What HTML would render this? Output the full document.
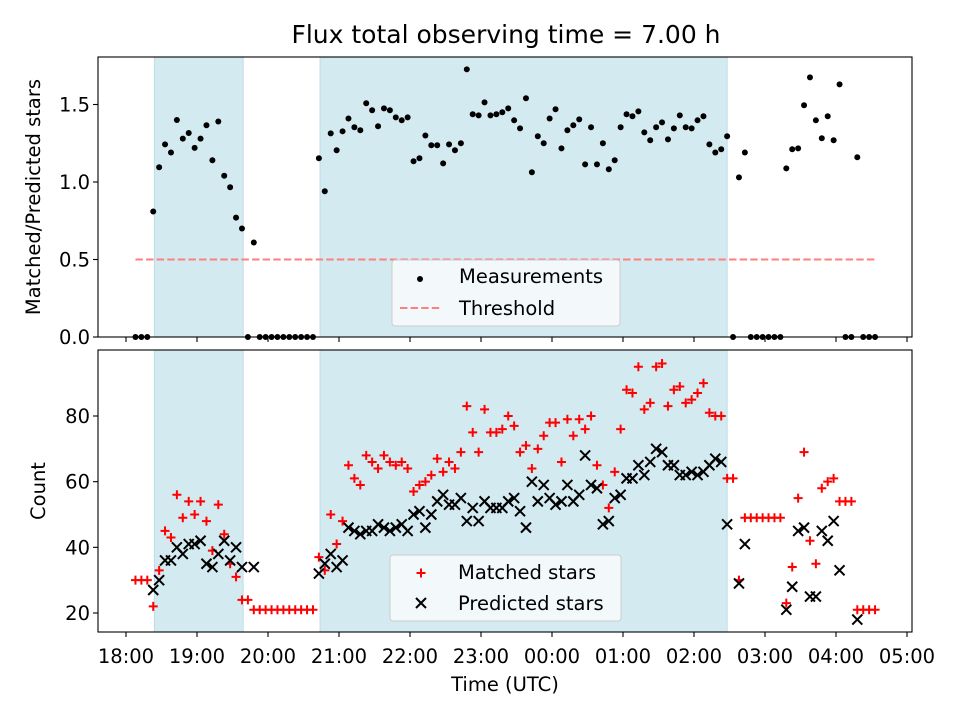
<!DOCTYPE html>
<html><head><meta charset="utf-8"><style>
body{margin:0;background:#fff;}
svg{display:block;font-family:"DejaVu Sans","Liberation Sans",sans-serif;}
</style></head><body>
<svg id="chart" width="960" height="720" viewBox="0 0 960 720">
<rect width="960" height="720" fill="#fff"/>
<g id="g"></g>
</svg>
<script>
const times = [8,13,18,23,28,33,38,43,48,53,58,63,68,73,78,83,88,93,98,103,108,113,118,123,128,133,138,143,148,153,158,163,168,173,178,183,188,193,198,203,208,213,218,223,228,233,238,243,248,253,258,263,268,273,278,283,288,293,298,303,308,313,318,323,328,333,338,343,348,353,358,363,368,373,378,383,388,393,398,403,408,413,418,423,428,433,438,443,448,453,458,463,468,473,478,483,488,493,498,503,508,513,518,523,528,533,538,543,548,553,558,563,568,573,578,583,588,593,598,603,608,613,618,623,628,633];
const ratios = [0,0,0,0.81,1.095,1.243,1.19,1.40,1.28,1.316,1.22,1.28,1.366,1.14,1.39,1.04,0.966,0.77,0.70,0,0.61,0,0,0,0,0,0,0,0,0,0,1.153,0.94,1.314,1.205,1.327,1.41,1.353,1.334,1.508,1.463,1.36,1.475,1.463,1.417,1.398,1.417,1.134,1.153,1.30,1.237,1.237,1.12,1.243,1.205,1.25,1.727,1.437,1.43,1.514,1.43,1.437,1.45,1.475,1.398,1.346,1.54,1.063,1.295,1.25,1.41,1.469,1.217,1.334,1.366,1.404,1.114,1.353,1.114,1.25,1.082,1.14,1.353,1.437,1.424,1.456,1.32,1.269,1.353,1.385,1.275,1.346,1.43,1.353,1.346,1.398,1.424,1.243,1.19,1.211,1.295,0,1.03,1.19,0,0,0,0,0,0,1.088,1.211,1.217,1.495,1.675,1.398,1.282,1.424,1.269,1.63,0,0,1.16,0,0,0];
const matched = [30,30,30,22,33,45,43,56,49,54,50,54,48,39,53,44,35,31,24,24,21,21,21,21,21,21,21,21,21,21,21,37,33,50,41,48,65,61,59,68,66,64,68,66,65,66,64,57,59,60,62,67,63,66,64,69,83,75,69,82,75,75,76,80,77,69,71,64,70,74,78,78,66,79,74,79,76,80,65,59,52,63,76,88,87,95,82,84,95,96,83,88,89,84,85,87,90,81,80,80,61,61,30,49,49,49,49,49,49,49,23,34,55,69,42,35,58,60,61,54,54,54,21,21,21,21];
const predicted = [null,null,null,27,30,36,36,40,38,41,41,42,35,34,38,42,36,40,34,null,34,null,null,null,null,null,null,null,null,null,null,32,35,38,34,36,46,45,44,45,45,47,46,45,46,47,45,50,51,46,50,54,56,53,53,55,48,52,48,54,52,52,52,54,55,51,46,60,54,59,55,53,54,59,54,56,68,59,58,47,48,55,56,61,61,65,62,66,70,69,65,65,62,62,63,62,63,65,67,66,47,null,29,41,null,null,null,null,null,null,21,28,45,46,25,25,45,42,48,33,null,null,18,null,null,null];
const threshold = 0.5;
const spans = [[24,99],[164,508]];
const xTickLabels = ["18:00","19:00","20:00","21:00","22:00","23:00","00:00","01:00","02:00","03:00","04:00","05:00"];
const topTicks = [0,0.5,1.0,1.5];
const botTicks = [20,40,60,80];

const NS="http://www.w3.org/2000/svg";
const g=document.getElementById('g');
function el(tag,attrs,parent){const e=document.createElementNS(NS,tag);for(const k in attrs)e.setAttribute(k,attrs[k]);(parent||g).appendChild(e);return e;}
const L=98,R=912;
const T1=57,B1=337,T2=350,B2=632;
const FS='19.5px';
function x(min){return 126+min*71/60;}
function y1(v){return 337-v*155;}
function y2(v){return 613-(v-20)*197/60;}

[[T1,B1,'top'],[T2,B2,'bottom']].forEach(([t,b,n])=>{
  spans.forEach((s,i)=>{
    const r=el('rect',{x:x(s[0]),y:t,width:x(s[1])-x(s[0]),height:b-t,fill:'#d4eaf1',stroke:'#bcdde8','stroke-width':1});
    
    
  });
});

const ti=el('text',{x:506,y:43,'text-anchor':'middle','font-size':'25px',fill:'#000'});
ti.textContent='Flux total observing time = 7.00 h';



const th=el('line',{x1:x(times[0]),x2:x(times[times.length-1]),y1:y1(threshold),y2:y1(threshold),stroke:'#ff7f7f','stroke-width':2,'stroke-dasharray':'7.4,3.2'});



ratios.forEach((v,i)=>{
  const c=el('circle',{cx:x(times[i]),cy:y1(v),r:3,fill:'#000'});
  
  
});

matched.forEach((v,i)=>{
  const cx=x(times[i]),cy=y2(v);
  const p=el('path',{d:`M${cx-4.5},${cy}H${cx+4.5}M${cx},${cy-4.5}V${cy+4.5}`,stroke:'#ff0000','stroke-width':2});
  
  
});
predicted.forEach((v,i)=>{
  if(v===null)return;
  const cx=x(times[i]),cy=y2(v);
  const p=el('path',{d:`M${cx-5},${cy-5}L${cx+5},${cy+5}M${cx-5},${cy+5}L${cx+5},${cy-5}`,stroke:'#000','stroke-width':2});
  
  
});

[[T1,B1,'top-axes-frame'],[T2,B2,'bottom-axes-frame']].forEach(([t,b,n])=>{
  const r=el('rect',{x:L,y:t,width:R-L,height:b-t,fill:'none',stroke:'#000','stroke-width':1.1});
  
  
});

xTickLabels.forEach((lab,i)=>{
  const xx=x(i*60);
  el('line',{x1:xx,x2:xx,y1:B1,y2:B1+5,stroke:'#000','stroke-width':1.1});
  el('line',{x1:xx,x2:xx,y1:B2,y2:B2+5,stroke:'#000','stroke-width':1.1});
  const t=el('text',{x:xx,y:663,'text-anchor':'middle','font-size':FS});
  t.textContent=lab;
  
  
});
topTicks.forEach(v=>{
  const yy=y1(v);
  el('line',{x1:L-5,x2:L,y1:yy,y2:yy,stroke:'#000','stroke-width':1.1});
  const t=el('text',{x:L-8,y:yy+7,'text-anchor':'end','font-size':FS});
  t.textContent=v.toFixed(1);
  
  
});
botTicks.forEach(v=>{
  const yy=y2(v);
  el('line',{x1:L-5,x2:L,y1:yy,y2:yy,stroke:'#000','stroke-width':1.1});
  const t=el('text',{x:L-8,y:yy+7,'text-anchor':'end','font-size':FS});
  t.textContent=String(v);
  
  
});

const yt1=el('text',{x:0,y:0,'text-anchor':'middle','font-size':FS,transform:`translate(40,${(T1+B1)/2}) rotate(-90)`});
yt1.textContent='Matched/Predicted stars';


const yt2=el('text',{x:0,y:0,'text-anchor':'middle','font-size':FS,transform:`translate(45,${(T2+B2)/2}) rotate(-90)`});
yt2.textContent='Count';


const xt=el('text',{x:(L+R)/2,y:691,'text-anchor':'middle','font-size':FS});
xt.textContent='Time (UTC)';



function legend(x0,y0,w,h,name){
  const gg=el('g',{});
  
  
  el('rect',{x:x0,y:y0,width:w,height:h,rx:3,fill:'#f6fafc','fill-opacity':0.9,stroke:'#cccccc','stroke-width':1},gg);
  return gg;
}
const lg1=legend(392,260,228,66,'top-legend');
el('circle',{cx:420,cy:279,r:3,fill:'#000'},lg1);
let t=el('text',{x:459,y:283,'font-size':FS},lg1);t.textContent='Measurements';


el('line',{x1:400,x2:442,y1:308,y2:308,stroke:'#ff7f7f','stroke-width':2,'stroke-dasharray':'7.4,3.2'},lg1);
t=el('text',{x:459,y:315,'font-size':FS},lg1);t.textContent='Threshold';



const lg2=legend(390,555,231,66,'bottom-legend');
el('path',{d:'M416.5,573H425.5M421,568.5V577.5',stroke:'#ff0000','stroke-width':2},lg2);
t=el('text',{x:458,y:579,'font-size':FS},lg2);t.textContent='Matched stars';


el('path',{d:'M416,598L426,608M416,608L426,598',stroke:'#000','stroke-width':2},lg2);
t=el('text',{x:458,y:610,'font-size':FS},lg2);t.textContent='Predicted stars';


</script>
</body></html>
